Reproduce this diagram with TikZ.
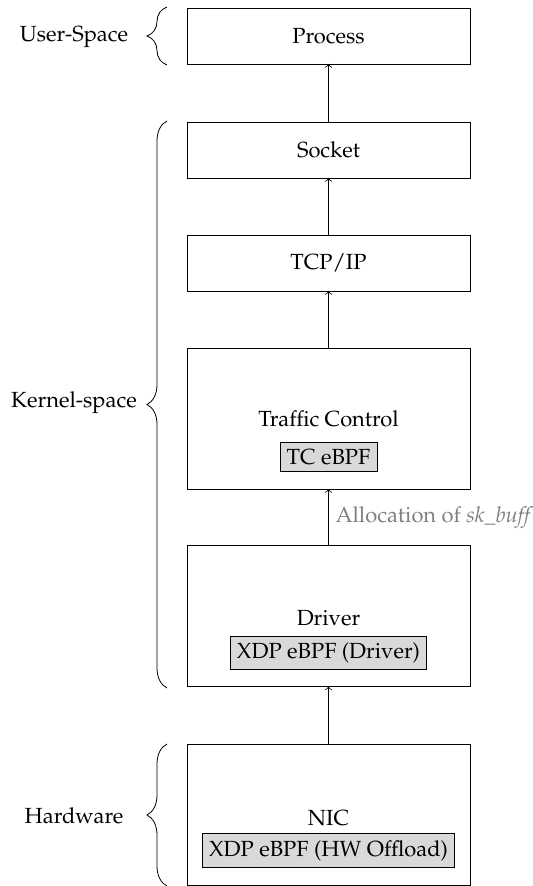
\documentclass[tikz,border=0pt]{standalone}
\usepackage[T1]{fontenc}
\usepackage{mathpazo}
\usetikzlibrary{decorations.pathreplacing}
\begin{document}
\begin{tikzpicture}[x=0.5pt,y=-0.5pt,
  every node/.style={font=\fontsize{10.95}{13.6}\selectfont},
  layer/.style={draw, inner sep=0pt, outer sep=0pt, minimum width=141.5pt},
  thinlayer/.style={layer, minimum height=28pt},
  talllayer/.style={layer, minimum height=70.5pt},
  hook/.style={draw, fill=gray!30, inner sep=0.3333em},
  title/.style={anchor=base, inner sep=0pt},
  flow/.style={->},
  span/.style={decorate, decoration={brace, amplitude=10pt}},
  spanlabel/.style={anchor=base, inner sep=0pt}]
\useasboundingbox (0,0) rectangle (533,886);

% stack of layers, top to bottom
\node[thinlayer] (proc) at (328.5,36)    {Process};
\node[thinlayer] (sock) at (328.5,150)   {Socket};
\node[thinlayer] (tcp)  at (328.5,263)   {TCP/IP};
\node[talllayer] (tc)   at (328.5,418.5) {};
\node[talllayer] (drv)  at (328.5,616)   {};
\node[talllayer] (nic)  at (328.5,815)   {};

% titles and eBPF hook points inside the tall layers
\node[title] (tctitle)  at (328.5,426) {Traffic Control};
\node[hook]  (tchook)   at (328.5,457) {TC eBPF};
\node[title] (drvtitle) at (328.5,625) {Driver};
\node[hook]  (drvhook)  at (328.5,653) {XDP eBPF (Driver)};
\node[title] (nictitle) at (328.5,825) {NIC};
\node[hook]  (nichook)  at (328.5,850.5) {XDP eBPF (HW Offload)};

% packet flow upwards
\draw[flow] (sock) -- (proc);
\draw[flow] (tcp) -- (sock);
\draw[flow] (tc) -- (tcp);
\draw[flow] (drv) -- node[right, text=gray] (alloc) {Allocation of \textit{sk\_buff}} (tc);
\draw[flow] (nic) -- (drv);

% address-space braces
\coordinate (us0) at (167,65);  \coordinate (us1) at (167,7);
\coordinate (ks0) at (167,688); \coordinate (ks1) at (167,121);
\coordinate (hw0) at (167,886); \coordinate (hw1) at (167,744);
\draw[span] (us0) -- (us1);
\draw[span] (ks0) -- (ks1);
\draw[span] (hw0) -- (hw1);
\node[spanlabel] (user)   at (74,41.5) {User-Space};
\node[spanlabel] (kernel) at (74,408)  {Kernel-space};
\node[spanlabel] (hard)   at (74,823)  {Hardware};
\end{tikzpicture}
\end{document}
